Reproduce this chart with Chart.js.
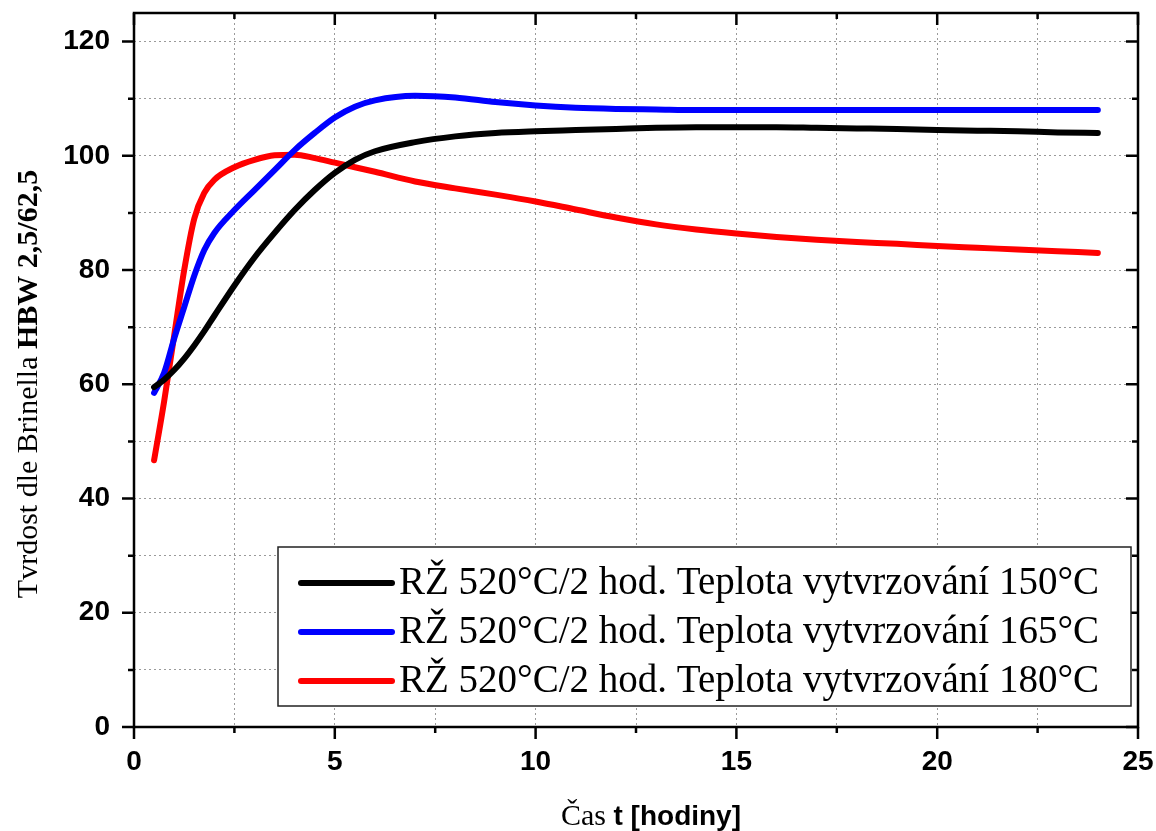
<!DOCTYPE html>
<html>
<head>
<meta charset="utf-8">
<script src="https://cdn.jsdelivr.net/npm/chart.js@4/dist/chart.umd.min.js"></script>
<style>
  html, body { margin: 0; padding: 0; background: #fff; }
  #wrap { width: 1156px; height: 831px; }
</style>
</head>
<body>
<div id="wrap"><canvas id="grafico" width="1156" height="831"></canvas></div>
<script>
// hodnoty
const casy = [0.5, 0.75, 1, 1.25, 1.5, 1.75, 2, 2.5, 3, 3.5, 4, 4.5, 5, 5.5, 6, 7, 8, 9, 10, 11, 12, 13, 14, 15, 16, 17, 18, 19, 20, 21, 22, 23, 24];
const tvrdost150 = [59.5, 60.8, 62.5, 64.5, 66.8, 69.3, 72, 77.3, 82.2, 86.5, 90.5, 94, 97, 99.3, 100.8, 102.4, 103.4, 104, 104.3, 104.5, 104.7, 104.9, 105, 105, 105, 104.9, 104.8, 104.7, 104.5, 104.4, 104.3, 104.1, 104];
const tvrdost165 = [58.5, 62, 68, 73.5, 79, 83.5, 86.5, 90.5, 94, 97.5, 101, 104, 106.7, 108.6, 109.7, 110.5, 110.2, 109.4, 108.8, 108.4, 108.2, 108.1, 108, 108, 108, 108, 108, 108, 108, 108, 108, 108, 108];
const tvrdost180 = [46.7, 57, 68.5, 80, 89, 93.5, 95.8, 98, 99.3, 100.1, 100.2, 99.6, 98.8, 98, 97.2, 95.5, 94.3, 93.2, 92, 90.6, 89.2, 88, 87.1, 86.4, 85.8, 85.3, 84.9, 84.6, 84.2, 83.9, 83.6, 83.3, 83];
const popisky = [
  'RŽ 520°C/2 hod. Teplota vytvrzování 150°C',
  'RŽ 520°C/2 hod. Teplota vytvrzování 165°C',
  'RŽ 520°C/2 hod. Teplota vytvrzování 180°C'
];
const barvy = ['#000000', '#0000ff', '#ff0000'];
const xMrizka = [0, 2.5, 5, 7.5, 10, 12.5, 15, 17.5, 20, 22.5, 25];
const yMrizka = [0, 10, 20, 30, 40, 50, 60, 70, 80, 90, 100, 110, 120];
const xTicks = [0, 5, 10, 15, 20, 25];
const yTicks = [0, 20, 40, 60, 80, 100, 120];

function body(hodnoty) {
  return casy.map(function (t, i) { return { x: t, y: hodnoty[i] }; });
}

const serie = [tvrdost150, tvrdost165, tvrdost180];
const datasets = serie.map(function (s, i) {
  return {
    label: popisky[i],
    data: body(s),
    borderColor: barvy[i],
    borderWidth: 6,
    borderCapStyle: 'round',
    borderJoinStyle: 'round',
    pointRadius: 0,
    fill: false,
    cubicInterpolationMode: 'monotone'
  };
});

// ramecek a carky os
const ramecek = {
  id: 'ramecek',
  afterDatasetsDraw: function (chart) {
    const ctx = chart.ctx;
    const a = chart.chartArea;
    const sx = chart.scales.x;
    const sy = chart.scales.y;
    ctx.save();
    ctx.strokeStyle = '#000';
    ctx.lineWidth = 2.5;
    ctx.beginPath();
    xMrizka.forEach(function (v) {
      const px = sx.getPixelForValue(v);
      const len = xTicks.indexOf(v) >= 0 ? 12 : 6;
      ctx.moveTo(px, a.bottom); ctx.lineTo(px, a.bottom + len);
      ctx.moveTo(px, a.top); ctx.lineTo(px, a.top + len);
    });
    yMrizka.forEach(function (v) {
      const py = sy.getPixelForValue(v);
      const len = yTicks.indexOf(v) >= 0 ? 12 : 6;
      ctx.moveTo(a.left, py); ctx.lineTo(a.left - len, py);
      ctx.moveTo(a.right, py); ctx.lineTo(a.right - len, py);
    });
    ctx.stroke();
    ctx.strokeRect(a.left, a.top, a.right - a.left, a.bottom - a.top);
    ctx.restore();
  }
};

// legenda v ramecku
const legenda = {
  id: 'legenda',
  afterDraw: function (chart) {
    const ctx = chart.ctx;
    const a = chart.chartArea;
    const x0 = a.left + 144, x1 = a.right - 7;
    const y0 = a.bottom - 180, y1 = a.bottom - 21;
    ctx.save();
    ctx.fillStyle = '#fff';
    ctx.fillRect(x0, y0, x1 - x0, y1 - y0);
    ctx.strokeStyle = '#222';
    ctx.lineWidth = 1.5;
    ctx.strokeRect(x0, y0, x1 - x0, y1 - y0);
    ctx.font = "39px 'Liberation Serif'";
    ctx.textBaseline = 'middle';
    ctx.fillStyle = '#000';
    chart.data.datasets.forEach(function (ds, i) {
      const y = y0 + 36 + i * 49;
      ctx.strokeStyle = ds.borderColor;
      ctx.lineWidth = 6;
      ctx.lineCap = 'round';
      ctx.beginPath();
      ctx.moveTo(x0 + 23, y);
      ctx.lineTo(x0 + 114, y);
      ctx.stroke();
      ctx.fillText(ds.label, x0 + 121, y + 1);
    });
    ctx.restore();
  }
};

// nazvy os se smisenym pismem
const nazvy = {
  id: 'nazvy',
  afterDraw: function (chart) {
    const ctx = chart.ctx;
    ctx.save();
    ctx.fillStyle = '#000';
    ctx.textBaseline = 'alphabetic';
    // osa y
    const f1 = "30px 'Liberation Serif'", f2 = "bold 30px 'Liberation Serif'";
    const t1 = 'Tvrdost dle Brinella ', t2 = 'HBW 2,5/62,5';
    ctx.font = f1; const w1 = ctx.measureText(t1).width;
    ctx.font = f2; const w2 = ctx.measureText(t2).width;
    ctx.translate(37, 384);
    ctx.rotate(-Math.PI / 2);
    ctx.font = f1; ctx.fillText(t1, -(w1 + w2) / 2, 0);
    ctx.font = f2; ctx.fillText(t2, -(w1 + w2) / 2 + w1, 0);
    ctx.setTransform(1, 0, 0, 1, 0, 0);
    // osa x
    const g1 = "30px 'Liberation Serif'", g2 = "bold 28px 'Liberation Sans'";
    const s1 = 'Čas ', s2 = 't [hodiny]';
    ctx.font = g1; const v1 = ctx.measureText(s1).width;
    ctx.font = g2; const v2 = ctx.measureText(s2).width;
    const sx = 651 - (v1 + v2) / 2;
    ctx.font = g1; ctx.fillText(s1, sx, 825);
    ctx.font = g2; ctx.fillText(s2, sx + v1, 825);
    ctx.restore();
  }
};

const tickFont = { family: "'Liberation Sans', Arial, sans-serif", size: 28, weight: 'bold' };

function bezOkraju(s) {
  s.paddingTop = 0; s.paddingBottom = 0; s.paddingLeft = 0; s.paddingRight = 0;
}

const config = {
  type: 'line',
  data: { datasets: datasets },
  options: {
    responsive: false,
    animation: false,
    layout: { padding: { top: 13, right: 18, left: 0, bottom: 0 } },
    plugins: { legend: { display: false }, tooltip: { enabled: false } },
    scales: {
      x: {
        type: 'linear',
        min: 0,
        max: 25,
        afterBuildTicks: function (s) { s.ticks = xMrizka.map(function (v) { return { value: v }; }); },
        afterFit: function (s) { s.height = 104; bezOkraju(s); },
        border: { display: false, dash: [2, 3] },
        grid: { color: '#9a9a9a', lineWidth: 1, drawTicks: false },
        ticks: {
          autoSkip: false,
          maxRotation: 0,
          padding: 18,
          color: '#000',
          font: tickFont,
          callback: function (v) { return xTicks.indexOf(v) >= 0 ? String(v) : ''; }
        }
      },
      y: {
        min: 0,
        max: 125,
        afterBuildTicks: function (s) { s.ticks = yMrizka.map(function (v) { return { value: v }; }); },
        afterFit: function (s) { s.width = 134; bezOkraju(s); },
        border: { display: false, dash: [2, 3] },
        grid: { color: '#9a9a9a', lineWidth: 1, drawTicks: false },
        ticks: {
          autoSkip: false,
          padding: 24,
          color: '#000',
          font: tickFont,
          callback: function (v) { return yTicks.indexOf(v) >= 0 ? String(v) : ''; }
        }
      }
    }
  },
  plugins: [ramecek, legenda, nazvy]
};

new Chart(document.getElementById('grafico'), config);
</script>
</body>
</html>
